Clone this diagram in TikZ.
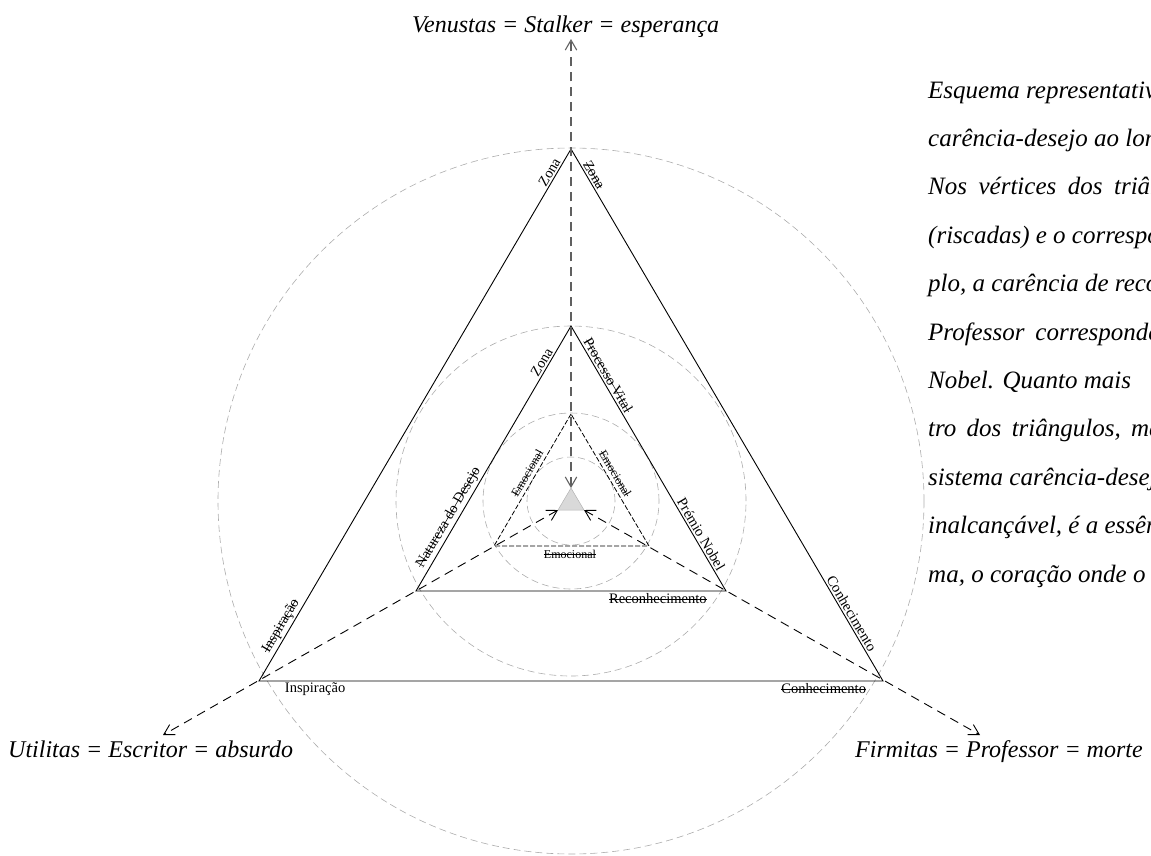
\documentclass[tikz,border=0pt]{standalone}
\usepackage{fontspec}
\setmainfont{Liberation Serif}
\usetikzlibrary{arrows.meta}
\newcommand\riscar[1]{\setbox0\hbox{#1}\rlap{\rule[0.26em]{\wd0}{0.5pt}}\box0}
\begin{document}
\begin{tikzpicture}[x=1pt,y=-1pt,
  tri/.style={draw=black,line width=0.9pt},
  triin/.style={draw=black,line width=0.8pt,dash pattern=on 5pt off 2pt},
  circ/.style={draw=gray!65,line width=0.6pt,dash pattern=on 7pt off 4pt},
  axisline/.style={line width=0.9pt,dash pattern=on 9pt off 6pt,
    {Straight Barb[length=10pt,width=11.5pt]}-{Straight Barb[length=10pt,width=11.5pt]}},
  lab/.style={font=\fontsize{14.5}{16}\selectfont,inner sep=2pt,sloped},
  slab/.style={font=\fontsize{12}{13}\selectfont,inner sep=3.5pt,sloped},
  big/.style={font=\fontsize{24}{28}\selectfont\itshape,anchor=base west,inner sep=0pt},
  para/.style={font=\fontsize{25}{28}\selectfont\itshape,anchor=base west,inner sep=0pt}]
\useasboundingbox (0,0) rectangle (1151,855);
% centre and vertices
\coordinate (C) at (571,501);
\coordinate (A1) at (571,149); \coordinate (B1) at (259,681); \coordinate (C1) at (883,681);
\coordinate (A2) at (571,326); \coordinate (B2) at (416,591); \coordinate (C2) at (726,591);
\coordinate (A3) at (571,414); \coordinate (B3) at (494,546); \coordinate (C3) at (649,546);
\coordinate (A4) at (571,488); \coordinate (B4) at (558,510); \coordinate (C4) at (584,510);
\coordinate (TopEnd) at (571,39);
\coordinate (LeftEnd) at (163,735);
\coordinate (RightEnd) at (980,735);
% circles
\draw[circ] (C) circle[radius=353pt];
\draw[circ] (C) circle[radius=175pt];
\draw[circ] (C) circle[radius=88pt];
\draw[circ] (C) circle[radius=44pt];
% triangles
\draw[tri] (A1) -- (B1) -- (C1) -- cycle;
\draw[tri] (A2) -- (B2) -- (C2) -- cycle;
\draw[triin] (A3) -- (B3) -- (C3) -- cycle;
\filldraw[fill=gray!30,draw=gray!60,line width=0.5pt] (A4) -- (B4) -- (C4) -- cycle;
% axes
\draw[axisline,draw=gray!75!black,line width=1.1pt] (A4) -- (TopEnd);
\draw[axisline] (B4) -- (LeftEnd);
\draw[axisline] (C4) -- (RightEnd);
% outer labels
\path (B1) -- (A1) node[lab,pos=0.095,above] (o1) {\riscar{Inspiração}}
                   node[lab,pos=0.95,above] (o2) {Zona};
\path (A1) -- (C1) node[lab,pos=0.055,above] (o3) {\riscar{Zona}}
                   node[lab,pos=0.88,above] (o4) {Conhecimento};
\path (B1) -- (C1) node[lab,pos=0.09,below] (o5) {Inspiração}
                   node[lab,pos=0.905,below] (o6) {\riscar{Conhecimento}};
% middle labels
\path (B2) -- (A2) node[lab,pos=0.26,above] (m1) {\riscar{Natureza do Desejo}}
                   node[lab,pos=0.85,above] (m2) {Zona};
\path (A2) -- (C2) node[lab,pos=0.2,above] (m3) {\riscar{Processo Vital}}
                   node[lab,pos=0.8,above] (m4) {Prémio Nobel};
\path (B2) -- (C2) node[lab,pos=0.78,below] (m5) {\riscar{Reconhecimento}};
% inner labels
\path (B3) -- (A3) node[slab,pos=0.52,above] (i1) {\riscar{Emocional}};
\path (A3) -- (C3) node[slab,pos=0.48,above] (i2) {\riscar{Emocional}};
\path (B3) -- (C3) node[slab,pos=0.49,below] (i3) {\riscar{Emocional}};
% big labels
\node[big] (ven) at (412,32) {Venustas = Stalker = esperança};
\node[big] (uti) at (8,757) {Utilitas = Escritor = absurdo};
\node[big] (fir) at (855,757) {Firmitas = Professor = morte};
% text block (cut at the right edge, as in the reference)
\begin{scope}
\clip (0,0) rectangle (1151,855);
\node[para] (p1) at (928,98) {Esquema representativo};
\node[para] (p2) at (928,146.4) {carência-desejo ao longo};
\node[para] (p3) at (928,194.8) {\spaceskip=11.5pt Nos vértices dos triângulos};
\node[para] (p4) at (928,243.2) {(riscadas) e o correspondente};
\node[para] (p5) at (928,291.6) {plo, a carência de reconhecimento};
\node[para] (p6) at (928,340) {\spaceskip=11pt Professor corresponde};
\node[para] (p7) at (928,388.4) {Nobel. Quanto mais};
\node[para] (p8) at (928,436.8) {\spaceskip=10.3pt tro dos triângulos, mais};
\node[para] (p9) at (928,485.2) {sistema carência-desejo};
\node[para] (p10) at (928,533.6) {inalcançável, é a essência};
\node[para] (p11) at (928,582) {ma, o coração onde o};
\end{scope}
\end{tikzpicture}
\end{document}
